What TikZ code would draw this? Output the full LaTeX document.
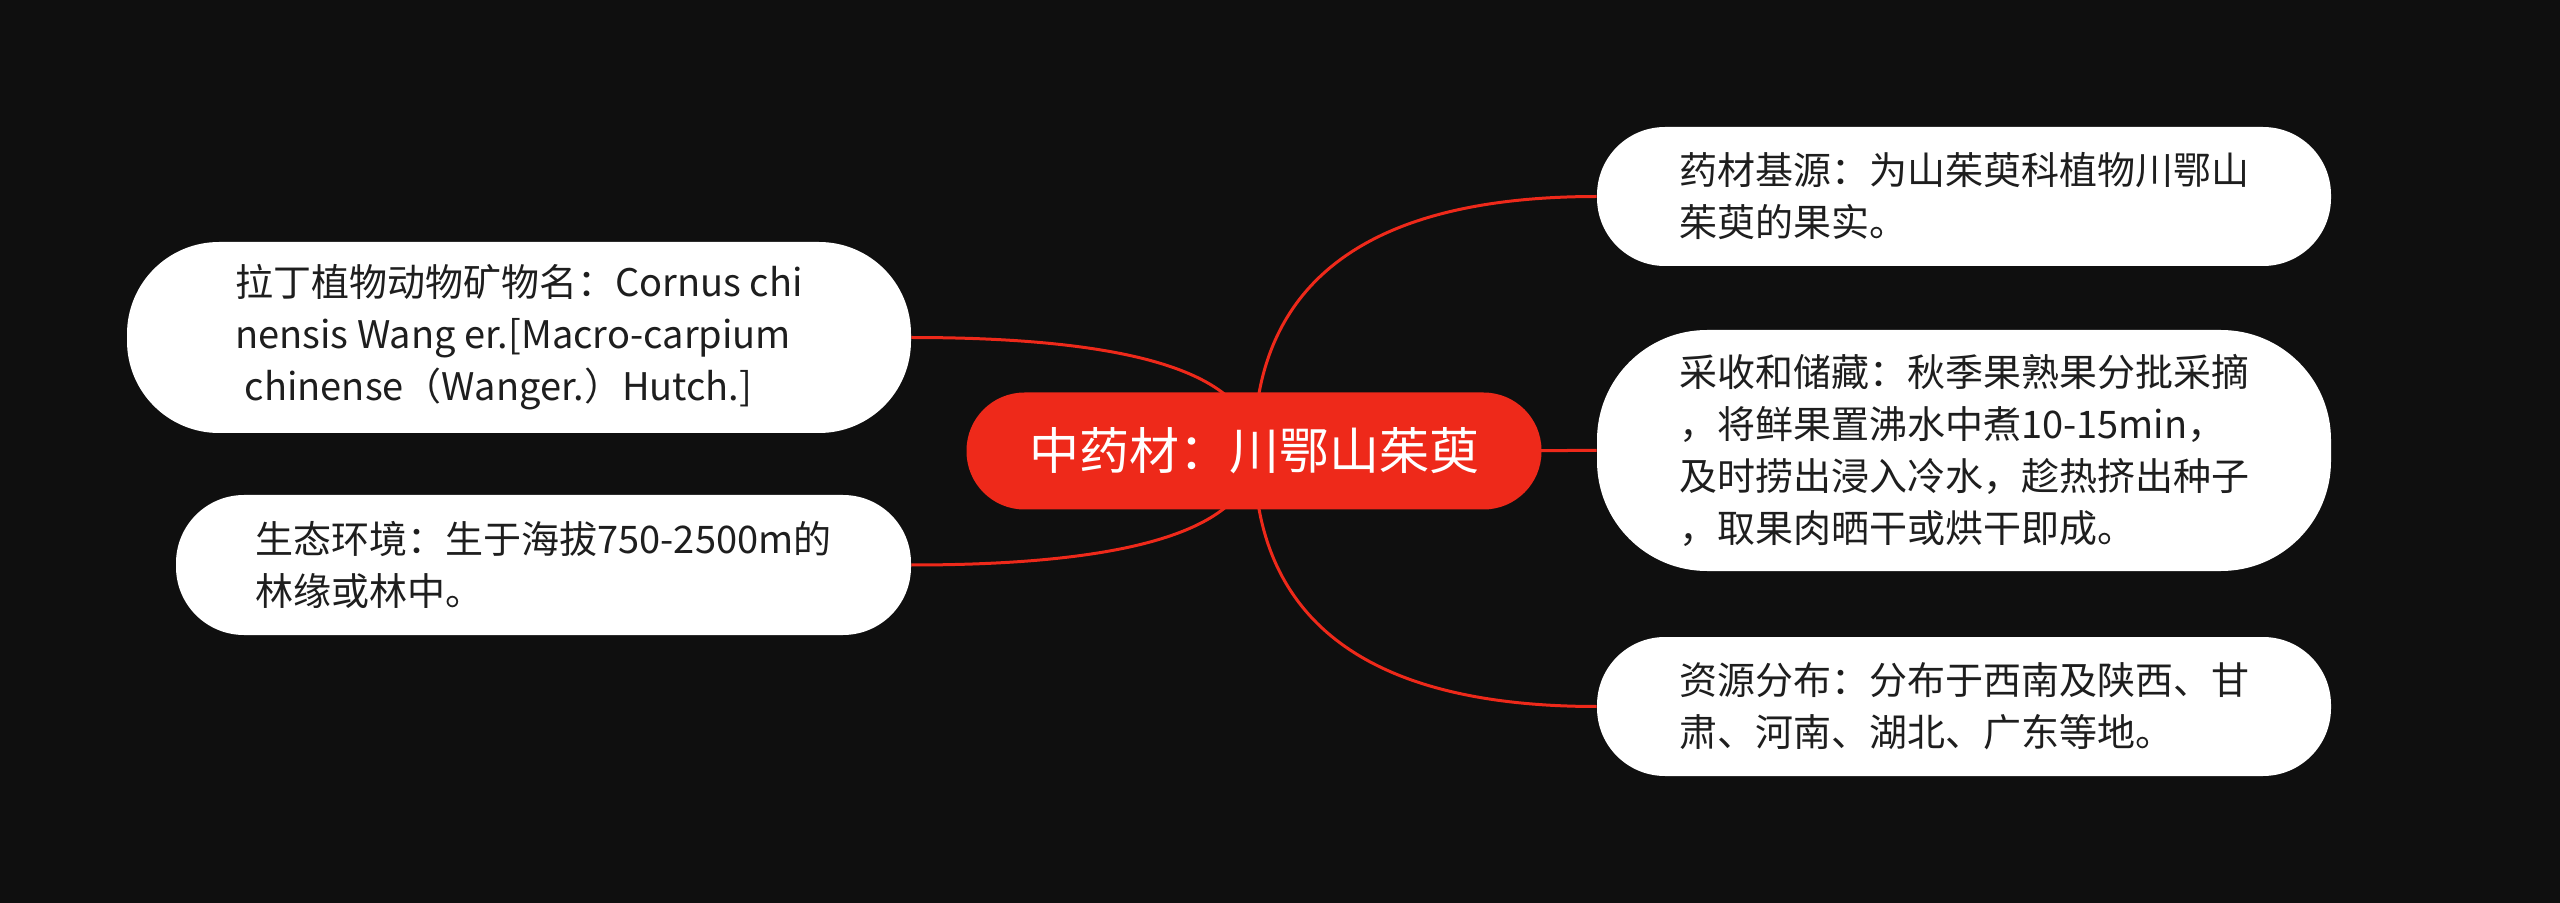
\documentclass[tikz,border=0pt]{standalone}
\usepackage{fontspec}
\setmainfont{Noto Sans CJK SC}
\usetikzlibrary{calc,backgrounds}
\definecolor{bgblack}{RGB}{15,15,15}
\definecolor{mapred}{RGB}{238,41,26}
\definecolor{inkgray}{RGB}{30,30,30}

\begin{document}
\begin{tikzpicture}[x=0.5pt, y=-0.5pt,
    topic/.style={fill=mapred, text=white, rounded corners=29pt, minimum width=287.5pt,
      minimum height=58.5pt, inner sep=0pt, font=\fontsize{25}{30}\selectfont},
    leaf/.style={fill=white, text=inkgray, rounded corners=34pt, minimum width=367pt,
      minimum height=69.5pt, inner sep=0pt, align=left, font=\fontsize{19}{26}\selectfont},
    branch/.style={draw=mapred, line width=1.5pt}]
    % Bildbereich
    \useasboundingbox (0,0) rectangle (2560,903);
    % Hauptthema
    \node[topic] (c) at (1254,451) {中药材：川鄂山茱萸};
    % Aeste rechts
    \node[leaf] (r1) at (1964,196.5) {药材基源：为山茱萸科植物川鄂山\\茱萸的果实。};
    \node[leaf, minimum height=120.5pt, rounded corners=55pt] (r2) at (1964,450.5)
      {采收和储藏：秋季果熟果分批采摘\\，将鲜果置沸水中煮10-15min，\\及时捞出浸入冷水，趁热挤出种子\\，取果肉晒干或烘干即成。};
    \node[leaf] (r3) at (1964,706.5) {资源分布：分布于西南及陕西、甘\\肃、河南、湖北、广东等地。};
    % Aeste links
    \node[leaf, minimum width=392pt, minimum height=95.5pt, rounded corners=46pt] (l1) at (519,337.5)
      {拉丁植物动物矿物名：Cornus chi\\nensis Wang er.[Macro-carpium\\\hspace*{0.25em}chinense（Wanger.）Hutch.]};
    \node[leaf, minimum width=367.5pt, minimum height=70pt] (l2) at (543.5,565)
      {生态环境：生于海拔750-2500m的\\林缘或林中。};
    % Hintergrund und Verbindungen
    \begin{scope}[on background layer]
      \fill[bgblack] (0,0) rectangle (2560,903);
      \foreach \n/\a in {r1/west, r2/west, r3/west, l1/east, l2/east}
        \draw[branch] (c.center) .. controls ($(c.center)!2/3!(c.center|-\n.\a)$)
          and ($(\n.\a)!2/3!(c.center|-\n.\a)$) .. (\n.\a);
    \end{scope}
\end{tikzpicture}
\end{document}
